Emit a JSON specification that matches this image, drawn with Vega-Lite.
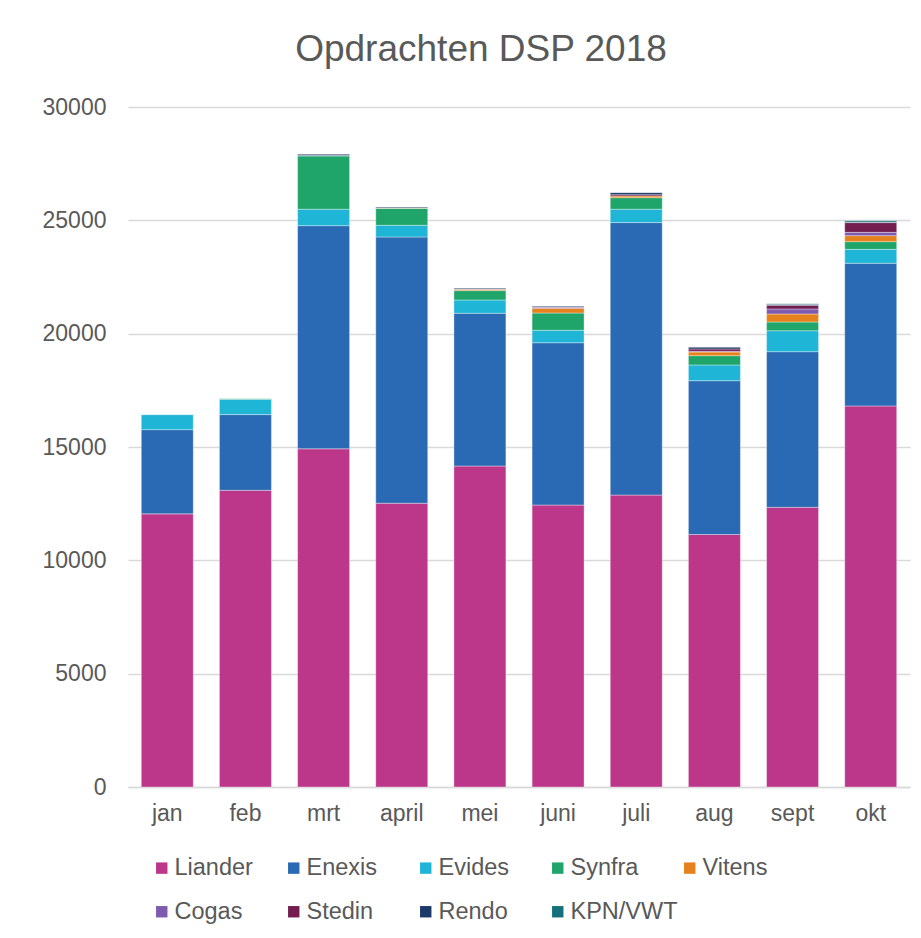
{
  "$schema": "https://vega.github.io/schema/vega-lite/v6.json",
  "width": 782,
  "height": 680,
  "autosize": "none",
  "padding": {"left": 128, "top": 107, "right": 11, "bottom": 151},
  "background": "white",
  "title": {
    "text": "Opdrachten DSP 2018",
    "font": "Liberation Sans",
    "fontSize": 37,
    "fontWeight": "normal",
    "color": "#595959",
    "anchor": "middle",
    "dx": -38,
    "offset": 27
  },
  "config": {
    "view": {"stroke": null},
    "font": "Liberation Sans"
  },
  "data": {
    "values": [
      {"month": "jan", "company": "Liander", "value": 12050},
      {"month": "jan", "company": "Enexis", "value": 3715},
      {"month": "jan", "company": "Evides", "value": 660},
      {"month": "feb", "company": "Liander", "value": 13090},
      {"month": "feb", "company": "Enexis", "value": 3340},
      {"month": "feb", "company": "Evides", "value": 675},
      {"month": "feb", "company": "Synfra", "value": 20},
      {"month": "mrt", "company": "Liander", "value": 14920},
      {"month": "mrt", "company": "Enexis", "value": 9845},
      {"month": "mrt", "company": "Evides", "value": 725},
      {"month": "mrt", "company": "Synfra", "value": 2350},
      {"month": "mrt", "company": "Cogas", "value": 20},
      {"month": "mrt", "company": "Rendo", "value": 50},
      {"month": "april", "company": "Liander", "value": 12520},
      {"month": "april", "company": "Enexis", "value": 11746},
      {"month": "april", "company": "Evides", "value": 515},
      {"month": "april", "company": "Synfra", "value": 750},
      {"month": "april", "company": "Vitens", "value": 20},
      {"month": "april", "company": "Rendo", "value": 40},
      {"month": "mei", "company": "Liander", "value": 14160},
      {"month": "mei", "company": "Enexis", "value": 6740},
      {"month": "mei", "company": "Evides", "value": 586},
      {"month": "mei", "company": "Synfra", "value": 414},
      {"month": "mei", "company": "Vitens", "value": 60},
      {"month": "mei", "company": "Cogas", "value": 20},
      {"month": "mei", "company": "Rendo", "value": 35},
      {"month": "juni", "company": "Liander", "value": 12440},
      {"month": "juni", "company": "Enexis", "value": 7160},
      {"month": "juni", "company": "Evides", "value": 550},
      {"month": "juni", "company": "Synfra", "value": 760},
      {"month": "juni", "company": "Vitens", "value": 210},
      {"month": "juni", "company": "Cogas", "value": 40},
      {"month": "juni", "company": "Stedin", "value": 30},
      {"month": "juni", "company": "Rendo", "value": 30},
      {"month": "juli", "company": "Liander", "value": 12880},
      {"month": "juli", "company": "Enexis", "value": 12020},
      {"month": "juli", "company": "Evides", "value": 590},
      {"month": "juli", "company": "Synfra", "value": 510},
      {"month": "juli", "company": "Vitens", "value": 75},
      {"month": "juli", "company": "Stedin", "value": 55},
      {"month": "juli", "company": "Rendo", "value": 90},
      {"month": "aug", "company": "Liander", "value": 11140},
      {"month": "aug", "company": "Enexis", "value": 6785},
      {"month": "aug", "company": "Evides", "value": 695},
      {"month": "aug", "company": "Synfra", "value": 410},
      {"month": "aug", "company": "Vitens", "value": 160},
      {"month": "aug", "company": "Cogas", "value": 30},
      {"month": "aug", "company": "Stedin", "value": 105},
      {"month": "aug", "company": "Rendo", "value": 75},
      {"month": "sept", "company": "Liander", "value": 12340},
      {"month": "sept", "company": "Enexis", "value": 6865},
      {"month": "sept", "company": "Evides", "value": 925},
      {"month": "sept", "company": "Synfra", "value": 385},
      {"month": "sept", "company": "Vitens", "value": 355},
      {"month": "sept", "company": "Cogas", "value": 220},
      {"month": "sept", "company": "Stedin", "value": 160},
      {"month": "sept", "company": "Rendo", "value": 40},
      {"month": "sept", "company": "KPN/VWT", "value": 35},
      {"month": "okt", "company": "Liander", "value": 16810},
      {"month": "okt", "company": "Enexis", "value": 6295},
      {"month": "okt", "company": "Evides", "value": 615},
      {"month": "okt", "company": "Synfra", "value": 340},
      {"month": "okt", "company": "Vitens", "value": 265},
      {"month": "okt", "company": "Cogas", "value": 145},
      {"month": "okt", "company": "Stedin", "value": 430},
      {"month": "okt", "company": "Rendo", "value": 20},
      {"month": "okt", "company": "KPN/VWT", "value": 60}
    ]
  },
  "transform": [
    {"calculate": "indexof(['Liander','Enexis','Evides','Synfra','Vitens','Cogas','Stedin','Rendo','KPN/VWT'], datum.company)", "as": "stackOrder"}
  ],
  "mark": {"type": "bar", "stroke": "white", "strokeWidth": 0.6, "strokeOpacity": 0.6},
  "encoding": {
    "x": {
      "field": "month",
      "type": "nominal",
      "sort": ["jan", "feb", "mrt", "april", "mei", "juni", "juli", "aug", "sept", "okt"],
      "scale": {"paddingInner": 0.335, "paddingOuter": 0.17},
      "axis": {
        "title": null,
        "labelAngle": 0,
        "labelFont": "Liberation Sans",
        "labelFontSize": 23,
        "labelColor": "#595959",
        "labelPadding": 15,
        "ticks": false,
        "domainColor": "#d9d9d9",
        "domainWidth": 1.5
      }
    },
    "y": {
      "field": "value",
      "type": "quantitative",
      "aggregate": "sum",
      "stack": "zero",
      "scale": {"domain": [0, 30000]},
      "axis": {
        "title": null,
        "values": [0, 5000, 10000, 15000, 20000, 25000, 30000],
        "format": "d",
        "labelFont": "Liberation Sans",
        "labelFontSize": 23,
        "labelColor": "#595959",
        "labelPadding": 22,
        "ticks": false,
        "domain": false,
        "gridColor": "#d9d9d9",
        "gridWidth": 1.5
      }
    },
    "order": {"field": "stackOrder", "type": "quantitative", "sort": "ascending"},
    "color": {
      "field": "company",
      "type": "nominal",
      "scale": {
        "domain": ["Liander", "Enexis", "Evides", "Synfra", "Vitens", "Cogas", "Stedin", "Rendo", "KPN/VWT"],
        "range": ["#BC368A", "#2A69B3", "#1FB5D6", "#1FA56A", "#E6821E", "#7F5BAF", "#731D50", "#1B3A6A", "#14707A"]
      },
      "legend": {
        "title": null,
        "orient": "none",
        "legendX": 22,
        "legendY": 749,
        "direction": "horizontal",
        "columns": 5,
        "gridAlign": "all",
        "columnPadding": -4,
        "rowPadding": 19,
        "symbolType": "square",
        "symbolSize": 130,
        "symbolStrokeWidth": 0,
        "symbolOpacity": 1,
        "labelFont": "Liberation Sans",
        "labelFontSize": 23.5,
        "labelColor": "#595959",
        "labelOffset": 1,
        "labelLimit": 200
      }
    }
  }
}
